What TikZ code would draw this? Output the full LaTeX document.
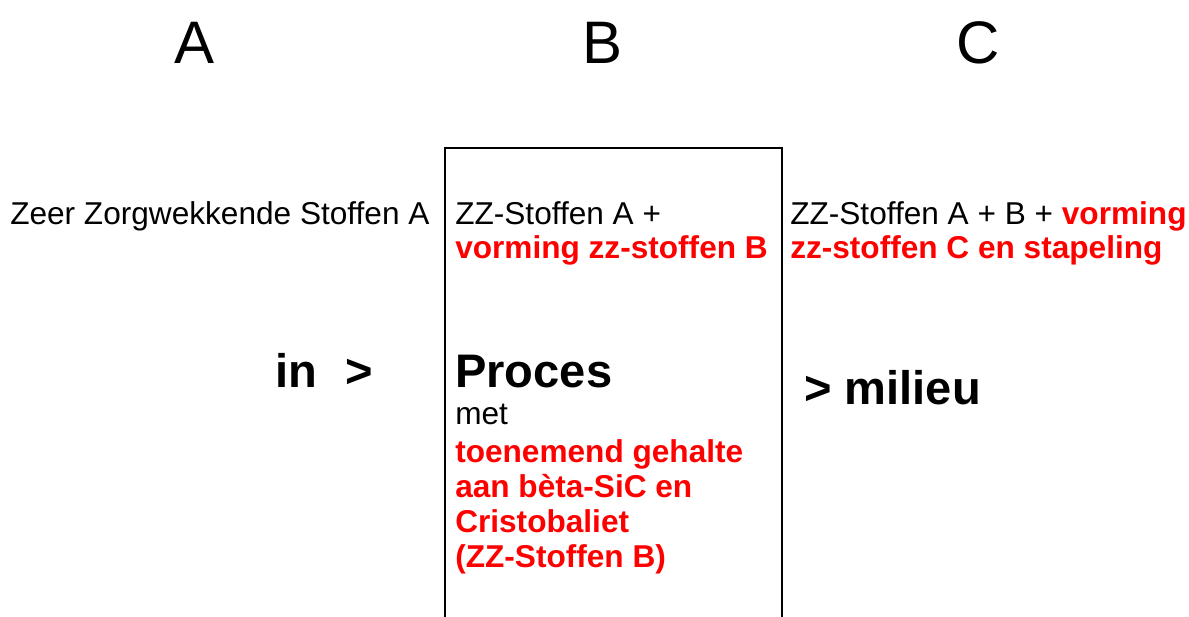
\documentclass[tikz,border=0pt]{standalone}
\usepackage{fontspec}
\setmainfont{Liberation Sans}
\definecolor{pred}{RGB}{255,0,0}
\begin{document}
\begin{tikzpicture}[x=0.75pt,y=-0.75pt,
  title/.style={font=\fontsize{45}{50}\selectfont, anchor=base, inner sep=0pt},
  txt/.style={font=\fontsize{23.7}{26}\selectfont, anchor=base west, inner sep=0pt},
  red/.style={txt, text=pred, font=\fontsize{23.7}{26}\selectfont\bfseries},
  big/.style={font=\fontsize{35.3}{40}\selectfont\bfseries, anchor=base west, inner sep=0pt}]
\useasboundingbox (0,0) rectangle (1189,617);
\fill[white] (0,0) rectangle (1189,617);
% column box
\draw[line width=1pt] (445,630) -- (445,148) -- (782,148) -- (782,630);
% titles
\node[title] (tA) at (195,64) {A};
\node[title] (tB) at (603,64) {B};
\node[title] (tC) at (978,64) {C};
% column A
\node[txt] (a1) at (10,224) {Zeer Zorgwekkende Stoffen A};
\node[big] (a2) at (275,387) {in\hspace{21pt}>};
% column B
\node[txt] (b1) at (455,224) {ZZ-Stoffen A +};
\node[red] (b2) at (455,258) {vorming zz-stoffen B};
\node[big] (b3) at (455,387) {Proces};
\node[txt] (b4) at (455,424) {met};
\node[red] (b5) at (455,462) {toenemend gehalte};
\node[red] (b6) at (455,497) {aan bèta-SiC en};
\node[red] (b7) at (455,532) {Cristobaliet};
\node[red] (b8) at (455,567) {(ZZ-Stoffen B)};
% column C
\node[txt] (c1) at (790,224) {ZZ-Stoffen A + B + {\color{pred}\bfseries vorming}};
\node[red] (c2) at (790,258) {zz-stoffen C en stapeling};
\node[big] (c3) at (804,404) {> milieu};
\end{tikzpicture}
\end{document}
